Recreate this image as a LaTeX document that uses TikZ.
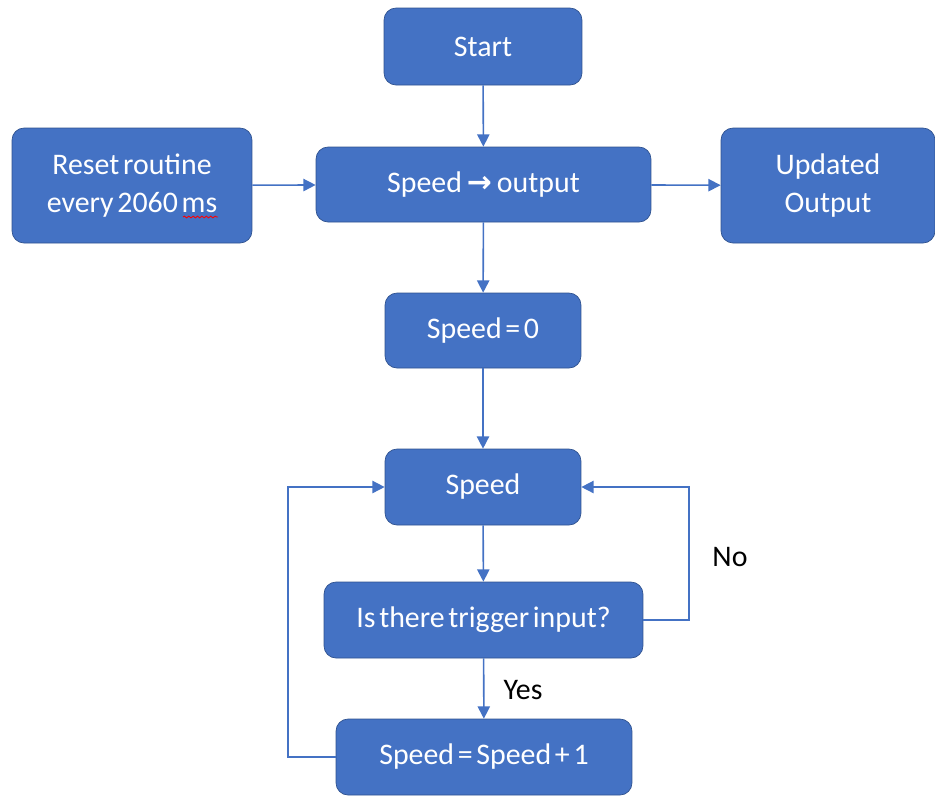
\documentclass[tikz,border=0pt]{standalone}
\usepackage{fontspec}
\setmainfont{Carlito}[WordSpace=0.55]
\newfontfamily\arrowfont{DejaVu Sans}
\usetikzlibrary{arrows.meta,decorations.pathmorphing}
\definecolor{boxblue}{HTML}{4472C4}
\definecolor{boxedge}{HTML}{2F528F}

\begin{document}
\begin{tikzpicture}[x=0.02cm,y=-0.02cm,>={Triangle[length=7pt,width=7pt]},
    block/.style={draw=boxedge,fill=boxblue,rounded corners=0.24cm,text=white,
      align=center,inner sep=0pt,font=\fontsize{17}{21.5}\selectfont},
    label/.style={font=\fontsize{17}{21.5}\selectfont,inner sep=0pt},
    flow/.style={color=boxblue,line width=0.9pt}]
      \useasboundingbox (0,0) rectangle (935,796);

      \node[block,minimum width=3.96cm,minimum height=1.54cm] (start) at (483,46.5) {Start};
      \node[block,minimum width=6.7cm,minimum height=1.5cm] (out) at (483.5,184.5)
        {Speed\,{\arrowfont\bfseries →}\,output};
      \node[block,minimum width=4.8cm,minimum height=2.3cm] (reset) at (132,185.5)
        {Reset routine\\every 2060 ms};
      \node[block,minimum width=4.28cm,minimum height=2.3cm] (updated) at (828,185.5)
        {Updated\\Output};
      \node[block,minimum width=3.92cm,minimum height=1.5cm] (zero) at (483,330.5) {Speed = 0};
      \node[block,minimum width=3.92cm,minimum height=1.52cm] (speed) at (483,487) {Speed};
      \node[block,minimum width=6.38cm,minimum height=1.52cm] (trigger) at (483.5,620)
        {Is there trigger input?};
      \node[block,minimum width=5.92cm,minimum height=1.52cm] (inc) at (484,757)
        {Speed = Speed + 1};

      \node[label] (no) at (730,557) {No};
      \node[label] (yes) at (523,690) {Yes};

      \coordinate (leftturn) at (288,0);
      \coordinate (rightturn) at (689,0);

      \draw[red,line width=0.5pt,decorate,decoration={snake,amplitude=0.5pt,segment length=2.5pt}]
        (183,217) -- (218,217);

      \path[flow,->]
      (start) edge (out)
      (reset) edge (out)
      (out) edge (updated)
      (out) edge (zero)
      (zero) edge (speed)
      (speed) edge (trigger)
      (trigger) edge (inc)
      ;
      \draw[flow,->] (inc.west) -- (inc.west -| leftturn) |- (speed.west);
      \draw[flow,->] (trigger.east) -- (trigger.east -| rightturn) |- (speed.east);
    \end{tikzpicture}
\end{document}
